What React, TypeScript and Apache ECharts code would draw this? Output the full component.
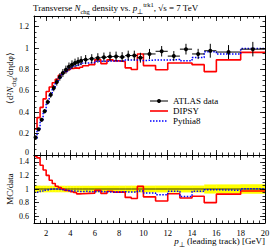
import React, { useEffect, useRef } from "react";
import * as echarts from "echarts";

// ---- data ----
const binEdges = [1.0, 1.25, 1.5, 1.75, 2.0, 2.25, 2.5, 2.75, 3.0, 3.25, 3.5, 3.75, 4.0, 4.25, 4.5, 4.75, 5.0,
  5.5, 6.0, 6.5, 7.0, 7.5, 8.0, 8.5, 9.0, 9.5, 10, 11, 12, 13, 14, 15, 16, 18, 20];
const atlasValues = [0.165, 0.24, 0.33, 0.41, 0.495, 0.563, 0.626, 0.682, 0.73, 0.767, 0.798, 0.825, 0.845, 0.86, 0.872, 0.882,
  0.892, 0.9, 0.908, 0.914, 0.92, 0.922, 0.917, 0.93, 0.93, 0.91,
  0.945, 0.97, 0.925, 0.99, 0.945, 0.975, 0.963, 0.99];
const atlasErrors = [0.008, 0.012, 0.016, 0.02, 0.024, 0.027, 0.03, 0.033, 0.035, 0.037, 0.038, 0.04, 0.04, 0.041, 0.042, 0.042,
  0.043, 0.043, 0.044, 0.044, 0.045, 0.045, 0.045, 0.046, 0.046, 0.046,
  0.047, 0.049, 0.047, 0.05, 0.048, 0.065, 0.065, 0.068];
const dipsyValues = [0.244, 0.35, 0.445, 0.525, 0.594, 0.636, 0.676, 0.709, 0.745, 0.767, 0.782, 0.8, 0.81, 0.815, 0.81, 0.82,
  0.835, 0.845, 0.89, 0.855, 0.89, 0.88, 0.875, 0.815, 0.8, 0.945,
  0.836, 0.798, 0.86, 0.86, 0.845, 0.78, 0.89, 0.96];
const pythiaValues = [0.157, 0.23, 0.32, 0.402, 0.49, 0.563, 0.626, 0.682, 0.723, 0.759, 0.782, 0.804, 0.82, 0.834, 0.841, 0.851,
  0.861, 0.864, 0.876, 0.877, 0.879, 0.88, 0.88, 0.888, 0.888, 0.883,
  0.888, 0.888, 0.893, 0.881, 0.912, 0.965, 0.944, 0.995];
const xTickLabels = [2, 4, 6, 8, 10, 12, 14, 16, 18, 20];
const mainYTickLabels = [0, 0.2, 0.4, 0.6, 0.8, 1, 1.2];
const ratioYTickLabels = [0.6, 0.8, 1, 1.2, 1.4];

const FONT = '"Liberation Serif", "Times New Roman", serif';

function steps(a: number, b: number, s: number) {
  const out: number[] = [];
  for (let v = a; v <= b + 1e-9; v += s) out.push(Math.round(v * 1000) / 1000);
  return out;
}
const xMinor = steps(1, 20, 0.5);
const mainYMinor = steps(0, 1.3, 0.05);
const ratioYMinor = steps(0.5, 1.5, 0.05);

const fmt = (v: number) => String(Number(v.toFixed(2)));

function histPoints(values: number[]) {
  const pts = values.map((v, i) => [binEdges[i], v]);
  pts.push([binEdges[binEdges.length - 1], values[values.length - 1]]);
  return pts;
}

function makeX(gridIndex: number, position: string, major: boolean, showLabels: boolean) {
  return {
    type: "value", gridIndex, position, min: 1, max: 20, z: 5,
    axisLine: { show: major, onZero: false, lineStyle: { color: "#000", width: 1 } },
    axisTick: { show: true, inside: true, length: major ? 5 : 2.5, customValues: major ? xTickLabels : xMinor,
      lineStyle: { color: "#000", width: 0.8 } },
    axisLabel: showLabels
      ? { show: true, customValues: xTickLabels, formatter: (v: number) => fmt(v), fontSize: 8.5, fontFamily: FONT, color: "#000", margin: 5 }
      : { show: false },
    splitLine: { show: false },
  };
}

function makeY(gridIndex: number, position: string, major: boolean, showLabels: boolean, min: number, max: number,
  majorVals: number[], minorVals: number[], lift: boolean) {
  return {
    type: "value", gridIndex, position, min, max, z: 5,
    axisLine: { show: major, onZero: false, lineStyle: { color: "#000", width: 1 } },
    axisTick: { show: true, inside: true, length: major ? 5 : 2.5, customValues: major ? majorVals : minorVals,
      lineStyle: { color: "#000", width: 0.8 } },
    axisLabel: showLabels
      ? {
          show: true, customValues: majorVals,
          formatter: (v: number) => (lift && v === 0 ? "{z|0}" : fmt(v)),
          rich: { z: { fontSize: 8, fontFamily: FONT, color: "#000", verticalAlign: "bottom", lineHeight: 8, padding: [0, 0, 3, 0] } },
          fontSize: 8, fontFamily: FONT, color: "#000", margin: 5,
        }
      : { show: false },
    splitLine: { show: false },
  };
}

export default function App() {
  const ref = useRef<HTMLDivElement>(null);
  useEffect(() => {
    if (!ref.current) return;
    const chart = echarts.init(ref.current, null, { renderer: "svg" });

    const atlasRows = atlasValues.map((v, i) => [binEdges[i], binEdges[i + 1], v, atlasErrors[i]]);
    const dipsyRatio = dipsyValues.map((v, i) => v / atlasValues[i]);
    const pythiaRatio = pythiaValues.map((v, i) => v / atlasValues[i]);
    const dataRatio = atlasValues.map((v) => v / v);

    const sub = { fontSize: 6.5, fontFamily: FONT, verticalAlign: "bottom", lineHeight: 7, fill: "#000" };
    const sup = { fontSize: 6.5, fontFamily: FONT, verticalAlign: "top", lineHeight: 7, fill: "#000" };
    const base = { fontSize: 9, fontFamily: FONT, lineHeight: 14, fill: "#000" };
    const ital = { fontSize: 9, fontFamily: FONT, fontStyle: "italic", lineHeight: 14, fill: "#000" };

    const option: any = {
      animation: false,
      backgroundColor: "#fff",
      grid: [
        { left: 34, right: 9, top: 16, height: 139, outerBoundsMode: "none", containLabel: false },
        { left: 34, right: 9, top: 155, height: 68, outerBoundsMode: "none", containLabel: false },
      ],
      xAxis: [
        makeX(0, "bottom", true, false),
        makeX(0, "top", true, false),
        makeX(0, "bottom", false, false),
        makeX(0, "top", false, false),
        makeX(1, "bottom", true, true),
        makeX(1, "top", true, false),
        makeX(1, "bottom", false, false),
        makeX(1, "top", false, false),
      ],
      yAxis: [
        makeY(0, "left", true, true, 0, 1.3, mainYTickLabels, mainYMinor, true),
        makeY(0, "right", true, false, 0, 1.3, mainYTickLabels, mainYMinor, false),
        makeY(0, "left", false, false, 0, 1.3, mainYTickLabels, mainYMinor, false),
        makeY(0, "right", false, false, 0, 1.3, mainYTickLabels, mainYMinor, false),
        makeY(1, "left", true, true, 0.5, 1.5, ratioYTickLabels, ratioYMinor, false),
        makeY(1, "right", true, false, 0.5, 1.5, ratioYTickLabels, ratioYMinor, false),
        makeY(1, "left", false, false, 0.5, 1.5, ratioYTickLabels, ratioYMinor, false),
        makeY(1, "right", false, false, 0.5, 1.5, ratioYTickLabels, ratioYMinor, false),
      ],
      series: [
        {
          name: "DIPSY", type: "line", xAxisIndex: 0, yAxisIndex: 0, step: "end", showSymbol: false, symbol: "none",
          data: histPoints(dipsyValues), lineStyle: { color: "#ff0000", width: 1.6 }, z: 2,
        },
        {
          name: "Pythia8", type: "line", xAxisIndex: 0, yAxisIndex: 0, step: "end", showSymbol: false, symbol: "none",
          data: histPoints(pythiaValues), lineStyle: { color: "#0000ff", width: 1.5, type: [1.5, 1.5] }, z: 3,
        },
        {
          name: "ATLAS data", type: "custom", xAxisIndex: 0, yAxisIndex: 0, z: 4,
          data: atlasRows,
          encode: { x: [0, 1], y: [2] },
          renderItem: (params: any, api: any) => {
            const lo = api.value(0), hi = api.value(1), v = api.value(2), e = api.value(3);
            const mid = (lo + hi) / 2;
            const pL = api.coord([lo, v]);
            const pR = api.coord([hi, v]);
            const pT = api.coord([mid, v + e]);
            const pB = api.coord([mid, v - e]);
            const c = api.coord([mid, v]);
            return {
              type: "group",
              children: [
                { type: "line", shape: { x1: pL[0], y1: pL[1], x2: pR[0], y2: pR[1] }, style: { stroke: "#000", lineWidth: 1 } },
                { type: "line", shape: { x1: pT[0], y1: pT[1], x2: pB[0], y2: pB[1] }, style: { stroke: "#000", lineWidth: 1 } },
                { type: "circle", shape: { cx: c[0], cy: c[1], r: 2 }, style: { fill: "#000" } },
              ],
            };
          },
        },
        {
          name: "band", type: "custom", xAxisIndex: 4, yAxisIndex: 4, z: 1,
          data: atlasRows,
          encode: { x: [0, 1] },
          renderItem: (params: any, api: any) => {
            const lo = api.value(0), hi = api.value(1), v = api.value(2), e = api.value(3);
            const p1 = api.coord([lo, 1 + e / v]);
            const p2 = api.coord([hi, 1 - e / v]);
            return {
              type: "rect",
              shape: { x: p1[0], y: p1[1], width: p2[0] - p1[0] + 0.3, height: p2[1] - p1[1] },
              style: { fill: "#ffff00" },
            };
          },
        },
        {
          name: "dataRatio", type: "line", xAxisIndex: 4, yAxisIndex: 4, step: "end", showSymbol: false, symbol: "none",
          data: histPoints(dataRatio), lineStyle: { color: "#000", width: 0.8 }, z: 2,
        },
        {
          name: "DIPSY ratio", type: "line", xAxisIndex: 4, yAxisIndex: 4, step: "end", showSymbol: false, symbol: "none",
          data: histPoints(dipsyRatio), lineStyle: { color: "#ff0000", width: 1.6 }, z: 3,
        },
        {
          name: "Pythia8 ratio", type: "line", xAxisIndex: 4, yAxisIndex: 4, step: "end", showSymbol: false, symbol: "none",
          data: histPoints(pythiaRatio), lineStyle: { color: "#0000ff", width: 1.5, type: [1.5, 1.5] }, z: 4,
        },
      ],
      graphic: [
        {
          type: "text", x: 33, y: 8, z: 10,
          style: {
            text: "Transverse {i|N}{sub|chg} density vs. {i|p}{sub|⊥}{sup|trk1}, √{o|s} = 7 TeV",
            fontSize: 9, fontFamily: FONT, fill: "#000", align: "left", verticalAlign: "middle",
            rich: { i: ital, sub, sup, o: base },
          },
        },
        {
          type: "text", x: 10, y: 78, rotation: Math.PI / 2, z: 10,
          style: {
            text: "⟨d²{i|N}{sub|chg}/dηdφ⟩",
            fontSize: 9, fontFamily: FONT, fill: "#000", align: "center", verticalAlign: "middle",
            rich: { i: ital, sub },
          },
        },
        {
          type: "text", x: 10, y: 189, rotation: Math.PI / 2, z: 10,
          style: { text: "MC/data", fontSize: 9, fontFamily: FONT, fill: "#000", align: "center", verticalAlign: "middle" },
        },
        {
          type: "text", x: 265, y: 241, z: 10,
          style: {
            text: "{i|p}{sub|⊥} (leading track) [GeV]",
            fontSize: 9, fontFamily: FONT, fill: "#000", align: "right", verticalAlign: "middle",
            rich: { i: ital, sub },
          },
        },
        { type: "line", shape: { x1: 150, y1: 101, x2: 168, y2: 101 }, style: { stroke: "#000", lineWidth: 1 }, z: 10 },
        { type: "circle", shape: { cx: 159, cy: 101, r: 2 }, style: { fill: "#000" }, z: 10 },
        { type: "text", x: 173, y: 101, z: 10, style: { text: "ATLAS data", fontSize: 9, fontFamily: FONT, fill: "#000", align: "left", verticalAlign: "middle" } },
        { type: "line", shape: { x1: 150, y1: 111, x2: 168, y2: 111 }, style: { stroke: "#ff0000", lineWidth: 1.6 }, z: 10 },
        { type: "text", x: 173, y: 111, z: 10, style: { text: "DIPSY", fontSize: 9, fontFamily: FONT, fill: "#000", align: "left", verticalAlign: "middle" } },
        { type: "line", shape: { x1: 150, y1: 121, x2: 168, y2: 121 }, style: { stroke: "#0000ff", lineWidth: 1.5, lineDash: [1.5, 1.5] }, z: 10 },
        { type: "text", x: 173, y: 121, z: 10, style: { text: "Pythia8", fontSize: 9, fontFamily: FONT, fill: "#000", align: "left", verticalAlign: "middle" } },
      ],
    };
    chart.setOption(option);
    return () => chart.dispose();
  }, []);
  return <div ref={ref} style={{ position: "absolute", left: 0, top: 0, width: 274, height: 248 }} />;
}
